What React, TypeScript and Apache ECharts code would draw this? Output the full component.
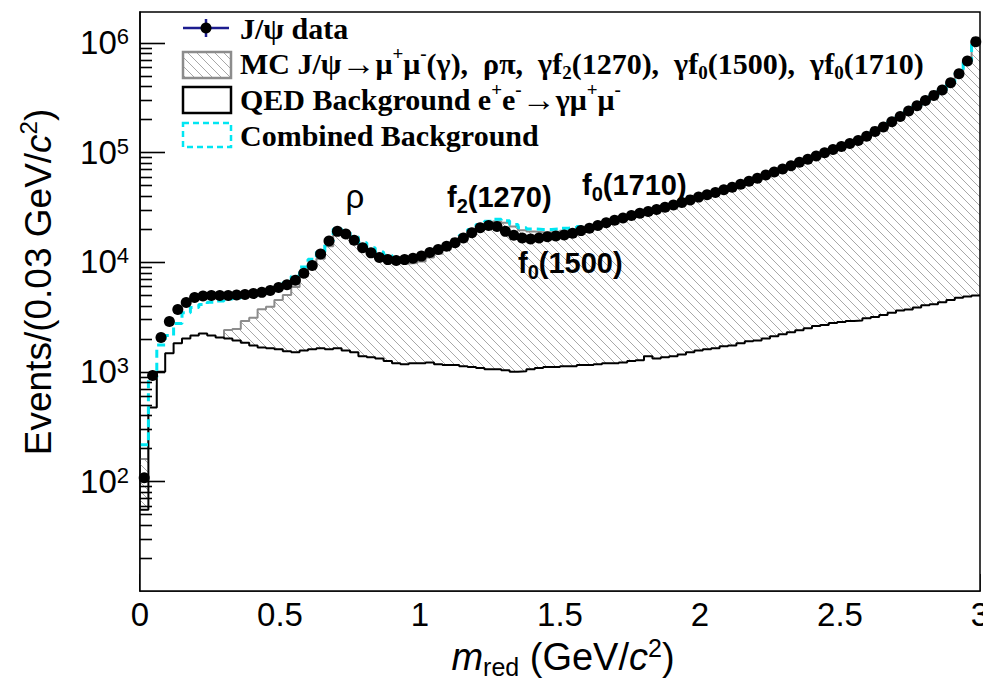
import React, { useEffect, useRef } from "react";
import * as echarts from "echarts";

// ---------------- data (bins of 0.03 GeV/c^2 from 0 to 3) ----------------
const BIN_WIDTH = 0.03;
const X_MIN = 0;
const X_MAX = 3;
const Y_MIN = 10;
const Y_MAX = 1.9e6;

const DATA_VALUES = [
  108, 920, 2050, 2860, 3680, 4270, 4740, 4900, 4950, 4950,
  4950, 5000, 5050, 5150, 5280, 5500, 5850, 6200, 6800, 7900,
  9300, 11800, 15500, 19000, 18000, 15800, 13500, 12100, 11000, 10500,
  10300, 10500, 10800, 11300, 12200, 13000, 13900, 15000, 16500, 18500,
  20500, 21500, 21000, 19000, 17500, 16500, 16200, 16500, 17000, 17200,
  17600, 18300, 19300, 20300, 21500, 22800, 24000, 25200, 26500, 27800,
  28800, 30000, 31500, 33000, 34800, 36800, 39000, 41000, 43000, 45500,
  48000, 51000, 54500, 58000, 62000, 66000, 70500, 75500, 81000, 86500,
  92500, 99000, 106000, 113000, 120000, 128000, 140000, 155000, 170000, 190000,
  212000, 238000, 265000, 296000, 330000, 370000, 430000, 520000, 680000, 1020000,
];

const MC_VALUES = [
  160, 420, 750, 660, 940, 1450, 1700, 1870, 2000, 2000,
  2400, 2450, 2900, 3100, 3700, 3900, 4500, 5000, 5900, 7400,
  9000, 10700, 13900, 18400, 17400, 15500, 13600, 12100, 11000, 10200,
  9800, 9700, 9800, 10100, 11000, 11900, 13000, 14300, 16400, 18700,
  20900, 22400, 23400, 22800, 21000, 19500, 18900, 18700, 18700, 18900,
  19200, 19500, 19800, 20300, 20800, 21800, 23000, 24100, 25300, 26500,
  27500, 28800, 30200, 31700, 33500, 35400, 37400, 39400, 41500, 43800,
  46300, 49200, 52600, 56100, 60000, 63900, 68300, 73200, 78600, 84000,
  89900, 96300, 103200, 110200, 117100, 125100, 136900, 151900, 166700, 186600,
  208400, 234300, 261200, 292000, 325900, 365700, 425500, 515300, 675200, 1015000,
];

const QED_VALUES = [
  55, 470, 1000, 1470, 1810, 2000, 2140, 2230, 2140, 2050,
  2000, 1920, 1830, 1730, 1660, 1630, 1600, 1530, 1500, 1560,
  1600, 1630, 1600, 1630, 1560, 1500, 1380, 1350, 1320, 1250,
  1190, 1170, 1190, 1190, 1210, 1170, 1150, 1150, 1120, 1100,
  1080, 1050, 1050, 1030, 1000, 1010, 1050, 1080, 1100, 1100,
  1120, 1120, 1150, 1150, 1170, 1190, 1190, 1210, 1250, 1270,
  1380, 1320, 1350, 1380, 1430, 1500, 1560, 1600, 1630, 1700,
  1730, 1810, 1890, 1920, 2000, 2100, 2190, 2290, 2390, 2490,
  2600, 2660, 2780, 2840, 2900, 2930, 3060, 3140, 3290, 3440,
  3600, 3680, 3850, 4030, 4120, 4300, 4510, 4720, 4830, 4940,
];

const COMBINED_VALUES = [
  215, 890, 1750, 2130, 2750, 3450, 3850, 4100, 4300, 4400,
  4600, 4700, 4800, 4980, 5150, 5400, 5900, 6450, 7400, 9000,
  10600, 12300, 15500, 20000, 19000, 17000, 15000, 13500, 12300, 11500,
  11000, 10900, 11000, 11300, 12200, 13100, 14200, 15500, 17500, 19800,
  22000, 23500, 24500, 23800, 22000, 20500, 20000, 19800, 19800, 20000,
  20300, 20600, 21000, 21500, 22000, 23000, 24200, 25300, 26600, 27800,
  28900, 30100, 31600, 33100, 34900, 36900, 39000, 41000, 43100, 45500,
  48100, 51000, 54500, 58000, 62000, 66000, 70500, 75500, 81000, 86500,
  92500, 99000, 106000, 113000, 120000, 128000, 140000, 155000, 170000, 190000,
  212000, 238000, 265000, 296000, 330000, 370000, 430000, 520000, 680000, 1020000,
];

const Y_MAJOR_TICKS = [100, 1000, 10000, 100000, 1000000];
const Y_MINOR_MULTIPLIERS = [2, 3, 4, 5, 6, 7, 8, 9];
const Y_DECADES = [10, 100, 1000, 10000, 100000];

const LEGEND_ITEMS = [
  "J/ψ data",
  "MC J/ψ{a|→}μ{sup|+}μ{sup|-}(γ),  ρπ,  γf{sub|2}(1270),  γf{sub|0}(1500),  γf{sub|0}(1710)",
  "QED Background e{sup|+}e{sup|-}{a|→}γμ{sup|+}μ{sup|-}",
  "Combined Background",
];

const PEAK_LABELS = ["ρ", "f{sub|2}(1270)", "f{sub|0}(1710)", "f{sub|0}(1500)"];

// ---------------- layout ----------------
const GRID = { left: 140, top: 12, width: 840, height: 579 };

// ---------------- helpers ----------------
function histPoints(values: number[]) {
  const pts: [number, number][] = values.map((v, i) => [i * BIN_WIDTH, v]);
  pts.push([values.length * BIN_WIDTH, values[values.length - 1]]);
  return pts;
}
function centerPoints(values: number[]) {
  return values.map((v, i) => [i * BIN_WIDTH + BIN_WIDTH / 2, v]);
}

function makeHatch() {
  const s = 9;
  const c = document.createElement("canvas");
  c.width = s;
  c.height = s;
  const g = c.getContext("2d")!;
  g.strokeStyle = "#a8a8a8";
  g.lineWidth = 1;
  g.beginPath();
  g.moveTo(-1, -1);
  g.lineTo(s + 1, s + 1);
  g.moveTo(-1, s - 1);
  g.lineTo(1, s + 1);
  g.moveTo(s - 1, -1);
  g.lineTo(s + 1, 1);
  g.stroke();
  return { image: c, repeat: "repeat", imageWidth: s, imageHeight: s } as any;
}

const SANS = "Liberation Sans, Arial, Helvetica, sans-serif";
const SERIF = "Liberation Serif, Times New Roman, serif";
const CYAN = "#00e6f2";

export default function App() {
  const ref = useRef<HTMLDivElement>(null);

  useEffect(() => {
    if (!ref.current) return;
    const chart = echarts.init(ref.current, undefined, { renderer: "svg" });
    const hatch = makeHatch();

    const yMinor: number[] = [];
    Y_DECADES.forEach((d) => Y_MINOR_MULTIPLIERS.forEach((m) => yMinor.push(d * m)));

    const legendRich = {
      sup: { fontSize: 19, fontWeight: "bold", fontFamily: SERIF, verticalAlign: "top", lineHeight: 18, color: "#000" },
      sub: { fontSize: 19, fontWeight: "bold", fontFamily: SERIF, verticalAlign: "bottom", lineHeight: 15, color: "#000" },
      a: { fontSize: 34, fontFamily: SERIF, color: "#000", lineHeight: 38 },
    };
    const legendText = (i: number, y: number) => ({
      type: "text",
      x: 240,
      y,
      z: 110,
      style: {
        text: LEGEND_ITEMS[i],
        fontSize: 30,
        fontWeight: "bold",
        fontFamily: SERIF,
        fill: "#000",
        lineHeight: 38,
        verticalAlign: "middle",
        rich: legendRich,
      },
    });

    const peakRich = {
      sub: { fontSize: 20, fontWeight: "bold", fontFamily: SANS, verticalAlign: "bottom", lineHeight: 16, color: "#000" },
    };
    const peakText = (i: number, x: number, y: number) => ({
      type: "text",
      x,
      y,
      z: 110,
      style: {
        text: PEAK_LABELS[i],
        fontSize: 29,
        fontWeight: "bold",
        fontFamily: SANS,
        fill: "#000",
        lineHeight: 38,
        verticalAlign: "middle",
        rich: peakRich,
      },
    });

    const baseGraphics: any[] = [
      // frame
      { type: "rect", z: 100, silent: true, shape: { x: GRID.left, y: GRID.top, width: GRID.width, height: GRID.height }, style: { fill: "none", stroke: "#000", lineWidth: 1.5 } },
      // legend markers
      { type: "line", z: 110, shape: { x1: 183, y1: 28, x2: 229, y2: 28 }, style: { stroke: "#1c1c8f", lineWidth: 2.5 } },
      { type: "line", z: 110, shape: { x1: 206, y1: 19, x2: 206, y2: 37 }, style: { stroke: "#1c1c8f", lineWidth: 2.5 } },
      { type: "circle", z: 111, shape: { cx: 206, cy: 28, r: 5.5 }, style: { fill: "#000" } },
      { type: "rect", z: 110, shape: { x: 183, y: 52, width: 48, height: 26 }, style: { fill: hatch, stroke: "#8c8c8c", lineWidth: 2.5 } },
      { type: "rect", z: 110, shape: { x: 183, y: 87, width: 48, height: 26 }, style: { fill: "none", stroke: "#000", lineWidth: 2.5 } },
      { type: "rect", z: 110, shape: { x: 183, y: 123, width: 48, height: 24 }, style: { fill: "none", stroke: CYAN, lineWidth: 2.5, lineDash: [6, 4] } },
      legendText(0, 28),
      legendText(1, 63),
      legendText(2, 99),
      legendText(3, 135),
      // peak labels
      {
        type: "text",
        x: 355,
        y: 196,
        z: 110,
        style: { text: PEAK_LABELS[0], fontSize: 33, fontFamily: SANS, fill: "#000", align: "center", verticalAlign: "middle" },
      },
      peakText(1, 447, 197),
      peakText(2, 582, 185),
      peakText(3, 518, 263),
      // axis titles
      {
        type: "text",
        x: 38,
        y: 282,
        rotation: Math.PI / 2,
        z: 110,
        style: {
          text: "Events/(0.03 GeV/{i|c}{s|2})",
          fontSize: 37,
          fontFamily: SANS,
          fill: "#000",
          align: "center",
          verticalAlign: "middle",
          lineHeight: 44,
          rich: {
            i: { fontSize: 37, fontStyle: "italic", fontFamily: SANS, color: "#000", lineHeight: 44 },
            s: { fontSize: 24, fontFamily: SANS, color: "#000", verticalAlign: "top", lineHeight: 26 },
          },
        },
      },
      {
        type: "text",
        x: 563,
        y: 657,
        z: 110,
        style: {
          text: "{m|m}{r|red} (GeV/{m|c}{s|2})",
          fontSize: 38,
          fontFamily: SANS,
          fill: "#000",
          align: "center",
          verticalAlign: "middle",
          lineHeight: 44,
          rich: {
            m: { fontSize: 38, fontStyle: "italic", fontFamily: SANS, color: "#000", lineHeight: 44 },
            r: { fontSize: 25, fontFamily: SANS, color: "#000", verticalAlign: "bottom", lineHeight: 18 },
            s: { fontSize: 25, fontFamily: SANS, color: "#000", verticalAlign: "top", lineHeight: 26 },
          },
        },
      },
    ];

    const option: any = {
      animation: false,
      backgroundColor: "#fff",
      grid: { ...GRID, show: false, containLabel: false, outerBoundsMode: "none" },
      xAxis: {
        type: "value",
        min: X_MIN,
        max: X_MAX,
        interval: 0.5,
        axisLine: { show: true, onZero: false, lineStyle: { color: "#000", width: 1.5 } },
        axisTick: { show: true, inside: true, length: 17, lineStyle: { color: "#000", width: 1.5 } },
        minorTick: { show: true, splitNumber: 5, length: 9, lineStyle: { color: "#000", width: 1.5 } },
        splitLine: { show: false },
        axisLabel: { fontSize: 33, color: "#000", fontFamily: SANS, margin: 7 },
      },
      yAxis: {
        type: "log",
        logBase: 10,
        position: "left",
        min: Y_MIN,
        max: Y_MAX,
        axisLine: { show: true, lineStyle: { color: "#000", width: 1.5 } },
        axisTick: { show: false },
        splitLine: { show: false },
        axisLabel: {
          customValues: Y_MAJOR_TICKS,
          margin: 11,
          formatter: (v: number) => `{b|10}{s|${Math.round(Math.log10(v))}}`,
          rich: {
            b: { fontSize: 33, fontFamily: SANS, color: "#000", lineHeight: 34 },
            s: { fontSize: 22, fontFamily: SANS, color: "#000", verticalAlign: "top", lineHeight: 22 },
          },
        },
      },
      series: [
        {
          name: "MC",
          type: "line",
          step: "end",
          data: histPoints(MC_VALUES),
          symbol: "none",
          z: 2,
          lineStyle: { color: "#8c8c8c", width: 2 },
          areaStyle: { color: hatch, origin: "start", opacity: 1 },
        },
        {
          name: "QED",
          type: "line",
          step: "end",
          data: histPoints(QED_VALUES),
          symbol: "none",
          z: 3,
          lineStyle: { color: "#000", width: 2 },
          areaStyle: { color: "#fff", origin: "start", opacity: 1 },
        },
        {
          name: "Combined",
          type: "line",
          step: "end",
          data: histPoints(COMBINED_VALUES),
          symbol: "none",
          z: 4,
          lineStyle: { color: CYAN, width: 3, type: [8, 5] },
        },
        {
          name: "Data",
          type: "scatter",
          data: centerPoints(DATA_VALUES),
          symbol: "circle",
          symbolSize: 11,
          z: 5,
          itemStyle: { color: "#000", opacity: 1 },
        },
      ],
      graphic: baseGraphics,
    };

    chart.setOption(option);

    // ROOT-style y ticks (major + minor, pointing into the frame) from the log axis scale
    const logSpan = Math.log10(Y_MAX) - Math.log10(Y_MIN);
    const yPix = (v: number) => {
      const p = Number(chart.convertToPixel({ yAxisIndex: 0 }, v));
      if (Number.isFinite(p) && p >= GRID.top - 1 && p <= GRID.top + GRID.height + 1) return p;
      return GRID.top + (GRID.height * (Math.log10(Y_MAX) - Math.log10(v))) / logSpan;
    };
    const tickLine = (v: number, len: number) => {
      const y = Math.round(yPix(v)) + 0.5;
      return {
        type: "line",
        z: 120,
        silent: true,
        shape: { x1: GRID.left, y1: y, x2: GRID.left + len, y2: y },
        style: { stroke: "#000", lineWidth: 1.6 },
      };
    };
    const ticks = [
      ...Y_MAJOR_TICKS.map((v) => tickLine(v, 25)),
      ...yMinor.map((v) => tickLine(v, 12)),
    ];
    chart.setOption({ graphic: [...baseGraphics, ...ticks] });

    return () => chart.dispose();
  }, []);

  return <div ref={ref} style={{ width: 983, height: 680, position: "absolute", left: 0, top: 0 }} />;
}
